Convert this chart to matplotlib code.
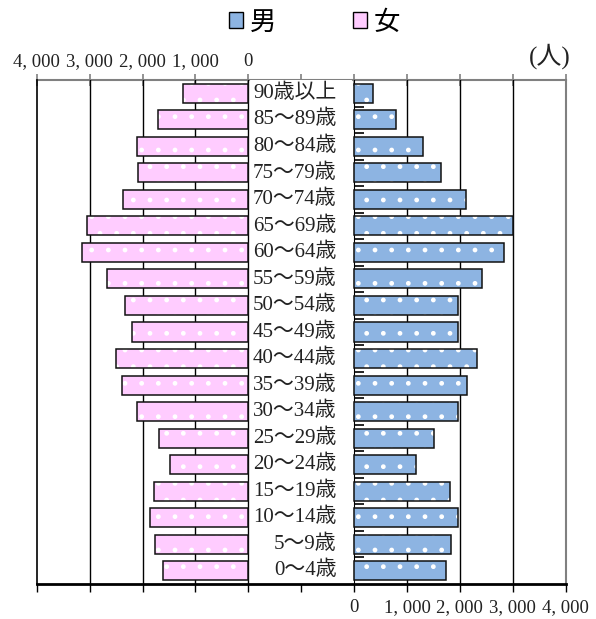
import matplotlib
matplotlib.use('Agg')
import matplotlib.pyplot as plt
from matplotlib.patches import Patch

plt.rcParams['font.family'] = ['Liberation Serif', 'Noto Sans CJK JP']

ages = ['90歳以上', '85〜89歳', '80〜84歳', '75〜79歳', '70〜74歳', '65〜69歳',
        '60〜64歳', '55〜59歳', '50〜54歳', '45〜49歳', '40〜44歳', '35〜39歳',
        '30〜34歳', '25〜29歳', '20〜24歳', '15〜19歳', '10〜14歳', '5〜9歳', '0〜4歳']
male = [360, 800, 1300, 1650, 2115, 2995, 2830, 2415, 1965, 1965, 2320, 2130,
        1960, 1510, 1170, 1815, 1960, 1840, 1740]
female = [1240, 1715, 2105, 2085, 2365, 3055, 3135, 2665, 2325, 2190, 2505, 2390,
          2105, 1680, 1475, 1780, 1850, 1755, 1610]

pink = '#FFCCFF'
blue = '#8DB4E2'
offset = 2000  # where the male axis starts (data units)

fig = plt.figure(figsize=(5.96, 6.19), dpi=100)
ax = fig.add_axes([0.0616, 0.0565, 0.8876, 0.8143])
ax.set_xlim(-4000, 6000)
ax.set_ylim(len(ages) - 0.5, -0.5)

y = list(range(len(ages)))

# gridlines
for gx in [-3000, -2000, -1000, 0, 3000, 4000, 5000]:
    ax.axvline(gx, color='black', lw=1, zorder=1)

# white label area
ax.axvspan(25, 1940, color='white', zorder=1.5)

# female bars
ax.barh(y, [-v for v in female], height=0.72, color=pink, edgecolor='white',
        linewidth=0, hatch='.', zorder=2)
ax.barh(y, [-v for v in female], height=0.72, fill=False, edgecolor='#111111',
        linewidth=1.1, zorder=3)
# male bars
ax.barh(y, male, left=offset, height=0.72, color=blue, edgecolor='white',
        linewidth=0, hatch='.', zorder=2)
ax.barh(y, male, left=offset, height=0.72, fill=False, edgecolor='#111111',
        linewidth=1.1, zorder=3)

for i, lab in enumerate(ages):
    ax.text(1670, i, lab, ha='right', va='center', fontsize=15, color='#222222', zorder=4)

# spines
ax.spines['left'].set_color('black')
ax.spines['left'].set_linewidth(1.2)
ax.spines['right'].set_color('#808080')
ax.spines['right'].set_linewidth(1.5)
ax.spines['top'].set_visible(False)
ax.spines['bottom'].set_color('black')
ax.spines['bottom'].set_linewidth(2)
ax.set_yticks([])

# bottom axis: male values
ax.set_xticks(range(-4000, 6001, 1000))
ax.set_xticklabels(['' if t < offset else f'{t - offset:,}'.replace(',', ', ')
                    for t in range(-4000, 6001, 1000)])
ax.tick_params(axis='x', direction='out', length=6, width=1, color='black',
               labelsize=13.5, pad=5, labelcolor='#222222')

# top axis: female values
top = ax.secondary_xaxis('top')
top.set_xticks(range(-4000, 6001, 1000))
top.set_xticklabels([f'{-t:,}'.replace(',', ', ') if t <= 0 else ''
                     for t in range(-4000, 6001, 1000)])
top.tick_params(axis='x', direction='inout', length=8, width=1.2, color='#808080',
                labelsize=13.5, pad=3, labelcolor='#222222')
top.spines['top'].set_color('#808080')
top.spines['top'].set_linewidth(1.5)

# male category axis with ticks at boundaries
mid = ax.secondary_yaxis((offset + 4000) / 10000)
mid.set_yticks([i + 0.5 for i in range(len(ages) - 1)])
mid.set_yticklabels([])
mid.tick_params(axis='y', direction='out', length=7, width=1.2, color='black')
mid.spines['left'].set_color('black')
mid.spines['left'].set_linewidth(1.5)

fig.text(0.958, 0.888, '(人)', ha='right', va='bottom', fontsize=18, color='#222222')

handles = [Patch(facecolor=blue, edgecolor='black', label='男'),
           Patch(facecolor=pink, edgecolor='black', label='女')]
fig.legend(handles=handles, loc='center', bbox_to_anchor=(0.528, 0.964), ncol=2,
           frameon=False, fontsize=19, handlelength=0.55, handleheight=0.55,
           handletextpad=0.25, columnspacing=2.9)

fig.savefig('out.png', dpi=100)
